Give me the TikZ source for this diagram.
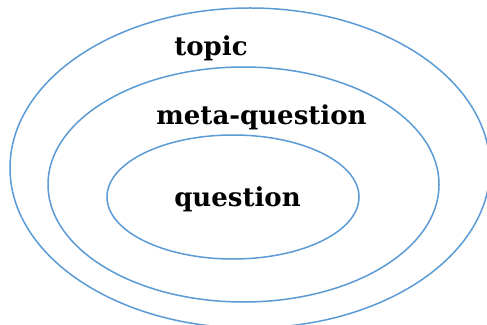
\documentclass[tikz,border=0pt]{standalone}
\usepackage{fontspec}
\setmainfont{DejaVu Serif}
\usetikzlibrary{shapes.geometric}
\definecolor{ringblue}{RGB}{91,155,213}
\tikzset{
  ring/.style={draw=ringblue, line width=1.5pt, ellipse, inner sep=0pt},
  lbl/.style={font=\bfseries\fontsize{26}{30}\selectfont, text=black, anchor=base, inner sep=0pt}
}
\begin{document}
\begin{tikzpicture}[x=1pt,y=1pt]
\useasboundingbox (0,0) rectangle (487,324);
\clip (0,0) rectangle (487,324);
\fill[white] (0,0) rectangle (487,324);
\node[ring, minimum width=480pt, minimum height=320pt] (outer) at (250,156) {};
\node[ring, minimum width=391pt, minimum height=235pt] (middle) at (243.5,139.5) {};
\node[ring, minimum width=252pt, minimum height=124pt] (inner) at (233,127) {};
\node[lbl] (topic) at (211,268) {topic};
\node[lbl] (meta) at (261.5,199) {meta-question};
\node[lbl] (question) at (237.5,117) {question};
\end{tikzpicture}
\end{document}
